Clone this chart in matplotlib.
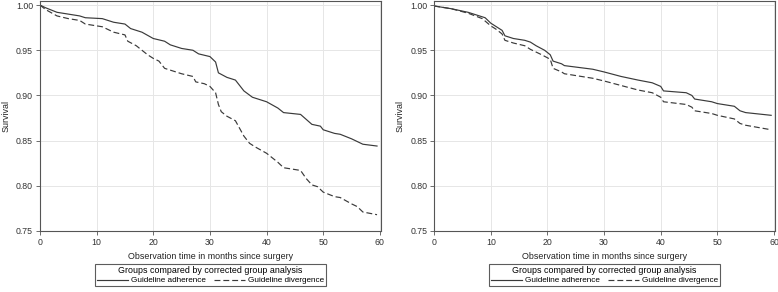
import matplotlib
matplotlib.use("Agg")
import matplotlib.pyplot as plt

plt.rcParams['font.family'] = ['Liberation Sans', 'DejaVu Sans']

# Left panel
left_adh_t = [0, 1, 3, 5, 7, 8, 11, 13, 15, 16, 18, 20, 22, 23, 25, 27, 28, 30, 31, 31.5, 33, 34.5, 36, 37.5, 40, 42, 43, 46, 48, 49.5, 50, 52, 53, 55, 57, 59.5]
left_adh_s = [1.0, 0.997, 0.992, 0.990, 0.988, 0.986, 0.985, 0.981, 0.979, 0.974, 0.970, 0.963, 0.960, 0.956, 0.952, 0.950, 0.946, 0.943, 0.937, 0.925, 0.920, 0.917, 0.905, 0.898, 0.893, 0.886, 0.881, 0.879, 0.868, 0.866, 0.862, 0.858, 0.857, 0.852, 0.846, 0.844]
left_div_t = [0, 1, 3, 5, 7, 8, 10, 11, 13, 15, 15.5, 17, 19, 20, 21, 22, 23, 25, 27, 27.5, 29, 30, 31, 31.5, 32, 33, 34.5, 36, 37, 38, 40, 42, 43, 46, 47, 48, 49, 50, 52, 53, 55, 56, 57, 59.5]
left_div_s = [1.0, 0.995, 0.988, 0.985, 0.983, 0.979, 0.977, 0.976, 0.970, 0.967, 0.960, 0.955, 0.945, 0.941, 0.938, 0.930, 0.928, 0.924, 0.921, 0.915, 0.913, 0.910, 0.903, 0.890, 0.882, 0.877, 0.872, 0.855, 0.847, 0.843, 0.836, 0.826, 0.820, 0.817, 0.808, 0.801, 0.799, 0.793, 0.788, 0.787, 0.780, 0.777, 0.771, 0.768]

# Right panel
right_adh_t = [0, 3, 6, 9, 10, 11, 12, 12.5, 14, 16, 17, 18, 19.5, 20.5, 21, 22.5, 23, 28, 30, 33, 36, 38.5, 40, 40.5, 44.5, 45.5, 46, 49, 50, 53, 54, 55, 59.5]
right_adh_s = [0.999, 0.996, 0.992, 0.986, 0.980, 0.976, 0.972, 0.966, 0.963, 0.961, 0.959, 0.955, 0.950, 0.945, 0.938, 0.935, 0.933, 0.929, 0.926, 0.921, 0.917, 0.914, 0.910, 0.905, 0.903, 0.900, 0.896, 0.893, 0.891, 0.888, 0.883, 0.881, 0.878]
right_div_t = [0, 3, 6, 8.5, 10, 11, 12, 12.5, 14, 16, 17, 19, 20.5, 21, 22.5, 23, 28, 30, 33, 36, 38.5, 40, 40.5, 44.5, 45.5, 46, 49, 50, 53, 54, 55, 59.5]
right_div_s = [0.999, 0.996, 0.991, 0.985, 0.977, 0.973, 0.968, 0.961, 0.958, 0.955, 0.951, 0.945, 0.940, 0.930, 0.926, 0.924, 0.919, 0.916, 0.911, 0.906, 0.903, 0.898, 0.893, 0.890, 0.887, 0.883, 0.880, 0.878, 0.874, 0.869, 0.867, 0.862]

x_ticks = [0, 10, 20, 30, 40, 50, 60]
y_ticks = [0.75, 0.80, 0.85, 0.90, 0.95, 1.00]
y_labels = ["0.75", "0.80", "0.85", "0.90", "0.95", "1.00"]
legend_title = "Groups compared by corrected group analysis"
series_names = ["Guideline adherence", "Guideline divergence"]

fig = plt.figure(figsize=(7.78, 2.92), dpi=100)
ax1 = fig.add_axes([0.0514, 0.209, 0.4383, 0.786])
ax2 = fig.add_axes([0.558, 0.209, 0.4383, 0.786])

line_col = '#3a3a3a'
panels = [(ax1, left_adh_t, left_adh_s, left_div_t, left_div_s),
          (ax2, right_adh_t, right_adh_s, right_div_t, right_div_s)]
for ax, at, as_, dt, ds in panels:
    ax.plot(at, as_, color=line_col, lw=0.85, label=series_names[0])
    ax.plot(dt, ds, color=line_col, lw=0.85, dashes=(5, 2.5), label=series_names[1])
    ax.set_xlim(0, 60.2)
    ax.set_ylim(0.75, 1.004)
    ax.set_xticks(x_ticks)
    ax.set_yticks(y_ticks)
    ax.set_yticklabels(y_labels)
    ax.grid(True, color='#e6e6e6', lw=0.7)
    ax.set_axisbelow(True)
    for sp in ax.spines.values():
        sp.set_color('#555555')
        sp.set_linewidth(0.8)
    ax.tick_params(labelsize=6.3, length=3, width=0.6, color='#555555', pad=2,
                   labelcolor='#333333')
    ax.set_xlabel("Observation time in months since surgery", fontsize=6.4, labelpad=4,
                  color='#222222')
    ax.set_ylabel("Survival", fontsize=6.4, labelpad=4, color='#222222')
    leg = ax.legend(loc='upper center', bbox_to_anchor=(0.5, -0.145), ncol=2,
                    title=legend_title, fontsize=5.9, title_fontsize=6.4,
                    frameon=True, fancybox=False, handlelength=3.8, handletextpad=0.4,
                    columnspacing=0.9, borderpad=0.25, labelspacing=0.1, borderaxespad=0)
    leg.get_frame().set_edgecolor('#333333')
    leg.get_frame().set_linewidth(0.8)
    leg._legend_box.sep = 1

fig.savefig("out.png", dpi=100, facecolor='white')
